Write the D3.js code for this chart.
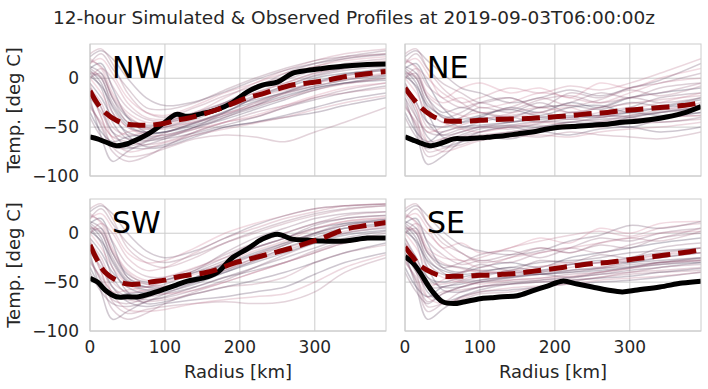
<!DOCTYPE html>
<meta charset="utf-8">
<script src="https://d3js.org/d3.v7.min.js"></script>
<style>
  body { margin: 0; background: #fff; }
  text { font-family: "DejaVu Sans", sans-serif; fill: #262626; }
</style>
<div id="my_dataviz"></div>

<script>

// radius points (km)
var memberRadius = [0, 15, 30, 50, 75, 100, 140, 180, 220, 260, 300, 340, 395];
var lineRadius = [0, 10, 20, 35, 50, 65, 80, 100, 115, 130, 150, 170, 190, 210, 230, 250, 270, 290, 310, 340, 370, 395];

var quadrants = ["NW", "NE", "SW", "SE"];
var xTicks = [0, 100, 200, 300];
var yTicks = [-100, -50, 0];

// observed profiles
var obsNW = [-60, -62, -65, -69, -67, -62, -56, -45, -37, -39, -36, -32, -25, -14, -7, -4, 5, 8, 10, 12.5, 14, 14.5];
var obsNE = [-60, -63, -66, -69, -66, -62, -62, -61, -60, -59, -57, -55, -52, -50, -49, -48, -47, -45, -44, -41, -36, -29];
var obsSW = [-46, -50, -58, -65, -65, -65, -62, -57, -53, -49, -46, -40, -25, -16, -6, -1, -6, -7, -8, -8, -5, -5];
var obsSE = [-24, -30, -40, -58, -70, -72, -70, -67, -66, -65, -64, -59, -54, -49, -52, -55, -58, -60, -58, -55, -51, -49];

// ensemble mean
var meanNW = [-13, -26, -35, -43, -47, -48, -48, -46, -43, -41, -37, -32, -26, -20, -16, -11, -7, -5, -3, 1.5, 4.5, 7];
var meanNE = [-10, -20, -29, -38, -43, -44, -44, -43, -42.5, -42, -41.5, -41, -40, -39, -37.5, -36, -35, -33, -32, -30, -28, -25];
var meanSW = [-12, -28, -40, -48, -52, -52, -50, -48, -45, -43, -41, -37, -31, -27, -23, -19, -15, -10, -5, 4, 8, 11];
var meanSE = [-14, -24, -33, -40, -44, -44, -44, -43, -43, -42, -41, -39, -37, -35, -33, -31, -30, -28, -26, -23, -20, -17];

// simulated members
var membersNW = [
  [10, 15, -10, -40, -55, -55, -45, -35, -20, -10, 0, 5, 8],
  [-20, -60, -85, -75, -65, -60, -50, -40, -30, -20, -10, -5, 0],
  [0, 5, -20, -45, -50, -45, -35, -25, -15, -5, 5, 10, 15],
  [-30, -45, -60, -65, -68, -65, -55, -45, -40, -30, -20, -15, -10],
  [15, 20, 5, -20, -35, -38, -28, -15, -5, 5, 12, 18, 22],
  [-10, -30, -55, -70, -72, -70, -60, -50, -45, -38, -30, -22, -15],
  [5, 0, -30, -50, -55, -50, -40, -25, -10, 5, 15, 22, 28],
  [-15, -40, -70, -80, -78, -72, -62, -58, -60, -65, -55, -45, -30],
  [20, 10, -15, -35, -45, -45, -40, -30, -20, -12, -5, 0, 5],
  [-5, -20, -40, -55, -60, -58, -50, -42, -32, -22, -12, -5, 2],
  [10, 0, -25, -45, -52, -50, -42, -30, -18, -8, 2, 8, 12],
  [-25, -50, -75, -85, -80, -70, -55, -45, -35, -28, -20, -12, -5],
  [0, 10, 0, -25, -40, -42, -35, -20, -5, 8, 18, 25, 30],
  [-35, -55, -65, -60, -58, -55, -48, -38, -28, -18, -10, -5, -2],
  [5, -10, -45, -62, -64, -62, -56, -48, -40, -30, -22, -15, -8],
  [15, 25, 10, -10, -30, -32, -25, -12, 0, 10, 18, 22, 25],
  [-10, -25, -50, -58, -55, -50, -45, -38, -25, -15, -5, 2, 10],
  [0, -15, -35, -50, -58, -58, -52, -45, -38, -28, -18, -10, -5],
  [12, 5, -20, -40, -48, -46, -38, -30, -22, -15, -8, -2, 3],
  [-20, -35, -55, -62, -62, -60, -52, -40, -28, -15, -5, 3, 8],
  [25, 30, 15, -15, -35, -40, -30, -18, -8, 2, 12, 20, 25],
  [-5, -40, -60, -55, -52, -48, -40, -28, -15, -5, 5, 12, 18],
  [8, -5, -35, -58, -70, -68, -58, -50, -45, -40, -35, -28, -20],
  [-40, -60, -70, -72, -68, -62, -50, -35, -20, -8, 3, 10, 15],
  [18, 12, -8, -30, -42, -44, -36, -25, -12, -2, 8, 15, 20],
  [-12, -30, -62, -75, -72, -66, -58, -52, -46, -40, -32, -25, -18],
  [2, -8, -28, -48, -56, -55, -46, -34, -24, -14, -4, 4, 10],
  [22, 28, 20, 0, -20, -28, -24, -14, -2, 8, 15, 20, 24],
  [-28, -48, -68, -70, -64, -56, -46, -36, -26, -16, -8, -2, 4],
  [6, 2, -18, -38, -50, -52, -44, -36, -28, -20, -12, -6, 0]
];
var membersNE = [
  [10, 15, -5, -30, -45, -40, -30, -35, -25, -30, -20, -15, -10],
  [-20, -55, -88, -80, -65, -60, -55, -50, -45, -48, -40, -35, -30],
  [0, 5, -20, -40, -35, -25, -20, -30, -15, -20, -10, -5, 5],
  [-30, -45, -65, -62, -60, -58, -55, -52, -50, -48, -46, -45, -42],
  [15, 20, 5, -20, -10, -5, -15, -10, -20, -5, -10, 0, 10],
  [-10, -35, -60, -70, -65, -60, -62, -55, -58, -52, -50, -55, -50],
  [5, 0, -30, -45, -40, -30, -35, -25, -35, -30, -20, -25, -20],
  [-15, -40, -75, -72, -68, -62, -58, -60, -55, -58, -60, -62, -55],
  [20, 10, -15, -25, -20, -30, -25, -15, -20, -25, -15, -5, 0],
  [-5, -25, -45, -50, -45, -40, -45, -40, -38, -40, -35, -30, -28],
  [10, 0, -25, -40, -50, -45, -40, -45, -35, -38, -30, -20, -15],
  [-25, -50, -80, -75, -60, -55, -50, -48, -52, -45, -42, -40, -38],
  [0, 10, 0, -15, -25, -20, -10, -15, -8, -12, -5, 5, 20],
  [-35, -55, -65, -55, -50, -48, -45, -42, -40, -38, -35, -38, -35],
  [5, -10, -45, -58, -55, -50, -48, -50, -45, -42, -40, -35, -30],
  [15, 25, 10, -5, -15, -25, -20, -30, -25, -15, -20, -10, -5],
  [-10, -25, -50, -55, -48, -42, -38, -35, -40, -35, -30, -32, -25],
  [0, -15, -35, -45, -52, -55, -50, -45, -48, -50, -45, -40, -38],
  [12, 5, -20, -35, -30, -35, -40, -30, -28, -32, -25, -28, -20],
  [-20, -40, -55, -58, -52, -50, -45, -40, -42, -38, -40, -45, -40],
  [25, 30, 10, -10, -25, -35, -30, -20, -28, -22, -12, -18, -8],
  [-5, -30, -55, -50, -40, -35, -40, -35, -30, -40, -32, -25, -15],
  [8, -5, -35, -60, -62, -55, -50, -55, -48, -45, -50, -42, -35],
  [-40, -60, -72, -65, -58, -52, -48, -44, -45, -40, -38, -35, -32],
  [18, 12, -8, -20, -30, -25, -32, -22, -18, -25, -20, -15, -5],
  [-12, -30, -65, -75, -70, -64, -60, -58, -60, -55, -52, -50, -45],
  [2, -8, -28, -38, -42, -38, -32, -38, -30, -28, -35, -30, -22],
  [22, 28, 18, 5, -10, -15, -25, -20, -12, -18, -10, -2, 15],
  [-28, -48, -70, -62, -55, -50, -52, -46, -42, -44, -38, -33, -30],
  [6, 2, -18, -30, -38, -42, -36, -30, -35, -30, -26, -22, -18]
];
var membersSW = [
  [10, 15, -10, -45, -55, -55, -45, -30, -15, -5, 5, 10, 12],
  [-20, -60, -88, -80, -70, -65, -55, -45, -38, -30, -20, -10, -5],
  [0, 5, -20, -45, -52, -48, -38, -25, -10, 0, 10, 15, 18],
  [-30, -45, -60, -68, -70, -68, -62, -55, -52, -45, -30, -20, -12],
  [15, 20, 5, -20, -30, -28, -15, 0, 10, 18, 25, 28, 30],
  [-10, -30, -55, -70, -75, -72, -68, -65, -60, -55, -42, -30, -20],
  [5, 0, -30, -50, -55, -48, -38, -20, -5, 5, 15, 20, 22],
  [-15, -40, -70, -82, -78, -75, -72, -70, -72, -70, -60, -40, -25],
  [20, 10, -15, -38, -48, -45, -35, -25, -15, -5, 5, 12, 15],
  [-5, -20, -40, -55, -62, -60, -52, -40, -28, -15, -5, 5, 10],
  [10, 0, -25, -48, -55, -52, -40, -28, -15, -5, 8, 15, 18],
  [-25, -50, -78, -88, -82, -72, -60, -50, -40, -30, -18, -8, 0],
  [0, 10, 0, -25, -38, -35, -20, -5, 5, 15, 22, 28, 30],
  [-35, -55, -65, -62, -60, -58, -50, -40, -30, -20, -10, -2, 3],
  [5, -10, -45, -62, -65, -62, -55, -45, -35, -25, -15, -5, 2],
  [15, 25, 10, -10, -25, -30, -22, -10, 2, 12, 20, 25, 28],
  [-10, -25, -50, -60, -58, -55, -48, -35, -22, -10, 0, 8, 12],
  [0, -15, -35, -52, -60, -62, -58, -50, -40, -30, -20, -10, -5],
  [12, 5, -20, -42, -50, -48, -40, -32, -22, -12, -2, 5, 8],
  [-20, -35, -55, -65, -68, -66, -58, -48, -35, -22, -10, 0, 5],
  [25, 30, 15, -15, -30, -35, -25, -10, 0, 10, 18, 24, 28],
  [-5, -40, -60, -58, -55, -50, -42, -30, -18, -8, 4, 12, 16],
  [8, -5, -35, -60, -72, -70, -62, -55, -48, -40, -30, -20, -10],
  [-40, -60, -72, -75, -70, -62, -50, -38, -25, -12, 0, 10, 14],
  [18, 12, -8, -32, -44, -45, -36, -22, -10, 0, 10, 18, 22],
  [-12, -30, -62, -78, -80, -78, -72, -68, -65, -62, -50, -35, -22],
  [2, -8, -28, -50, -58, -56, -46, -32, -20, -10, 0, 8, 14],
  [22, 28, 20, 0, -18, -25, -18, -5, 8, 18, 25, 28, 30],
  [-28, -48, -68, -72, -66, -58, -48, -38, -28, -18, -8, 0, 6],
  [6, 2, -18, -40, -52, -54, -46, -36, -26, -16, -6, 2, 8]
];
var membersSE = [
  [10, 15, -10, -35, -40, -35, -30, -35, -25, -20, -15, -10, -5],
  [-20, -55, -88, -78, -65, -58, -52, -48, -45, -42, -38, -35, -30],
  [0, 5, -20, -35, -30, -22, -18, -25, -15, -5, -8, 0, 5],
  [-30, -45, -65, -60, -58, -55, -52, -50, -48, -45, -40, -38, -35],
  [15, 20, 5, -15, -10, -20, -15, -5, -10, 5, 0, 10, 12],
  [-10, -35, -60, -70, -65, -60, -58, -55, -52, -50, -48, -45, -40],
  [5, 0, -30, -42, -40, -32, -38, -28, -30, -22, -25, -15, -10],
  [-15, -40, -75, -72, -68, -62, -60, -55, -50, -45, -42, -40, -38],
  [20, 10, -15, -25, -28, -35, -25, -20, -15, -10, -5, 0, 2],
  [-5, -25, -45, -50, -45, -42, -40, -42, -38, -35, -30, -28, -25],
  [10, 0, -25, -40, -48, -45, -38, -40, -32, -30, -25, -20, -15],
  [-25, -50, -80, -72, -60, -55, -50, -48, -46, -42, -40, -35, -32],
  [0, 10, 0, -15, -28, -25, -15, -8, -2, 2, -3, 5, 10],
  [-35, -55, -65, -55, -52, -48, -45, -42, -40, -38, -35, -32, -30],
  [5, -10, -45, -55, -55, -50, -45, -42, -45, -40, -35, -30, -25],
  [15, 25, 10, -5, -20, -28, -22, -15, -20, -12, -15, -5, 0],
  [-10, -25, -50, -52, -48, -42, -40, -38, -35, -30, -28, -25, -20],
  [0, -15, -35, -45, -50, -52, -48, -46, -44, -40, -36, -30, -28],
  [12, 5, -20, -32, -35, -38, -35, -30, -28, -25, -20, -18, -15],
  [-20, -40, -55, -55, -50, -48, -44, -40, -38, -36, -32, -30, -28],
  [25, 30, 10, -10, -20, -30, -25, -15, -20, -10, -5, -8, 2],
  [-5, -30, -55, -48, -40, -38, -42, -35, -30, -35, -28, -22, -15],
  [8, -5, -35, -58, -60, -55, -52, -50, -48, -46, -44, -40, -36],
  [-40, -60, -72, -62, -55, -50, -46, -42, -40, -36, -34, -30, -26],
  [18, 12, -8, -22, -32, -28, -30, -20, -15, -20, -12, -5, 5],
  [-12, -30, -65, -72, -66, -60, -56, -54, -52, -48, -46, -44, -40],
  [2, -8, -28, -38, -42, -40, -35, -38, -32, -28, -30, -25, -20],
  [22, 28, 18, 2, -12, -18, -22, -18, -8, -2, 8, 5, 12],
  [-28, -48, -70, -62, -55, -50, -48, -46, -42, -40, -36, -32, -28],
  [6, 2, -18, -30, -36, -40, -38, -34, -32, -30, -26, -22, -20]
];

var panels = [
  {name: quadrants[0], obs: obsNW, mean: meanNW, members: membersNW, col: 0, row: 0},
  {name: quadrants[1], obs: obsNE, mean: meanNE, members: membersNE, col: 1, row: 0},
  {name: quadrants[2], obs: obsSW, mean: meanSW, members: membersSW, col: 0, row: 1},
  {name: quadrants[3], obs: obsSE, mean: meanSE, members: membersSE, col: 1, row: 1}
];

// dimensions
var W = 708, H = 389;
var pw = 296, ph = 132;
var lefts = [90, 405], tops = [44, 199];

var svg = d3.select("#my_dataviz")
  .append("svg")
    .attr("width", W)
    .attr("height", H);

var x = d3.scaleLinear().domain([0, 395]).range([0, pw]);
var y = d3.scaleLinear().domain([-100, 35]).range([ph, 0]);

var memberColor = d3.interpolateRgb("#2e2142", "#d27b94");

// title
svg.append("text")
  .attr("x", W / 2).attr("y", 24)
  .attr("text-anchor", "middle")
  .style("font-size", "18.5px")
  .text("12-hour Simulated & Observed Profiles at 2019-09-03T06:00:00z");

panels.forEach(function(p, pi) {
  var g = svg.append("g")
    .attr("transform", "translate(" + lefts[p.col] + "," + tops[p.row] + ")");

  g.append("clipPath").attr("id", "clip" + pi)
    .append("rect").attr("width", pw).attr("height", ph);

  // grid
  g.selectAll(".vgrid").data(xTicks).enter().append("line")
    .attr("x1", function(d) { return x(d); }).attr("x2", function(d) { return x(d); })
    .attr("y1", 0).attr("y2", ph)
    .attr("stroke", "#cccccc").attr("stroke-width", 1);
  g.selectAll(".hgrid").data(yTicks).enter().append("line")
    .attr("x1", 0).attr("x2", pw)
    .attr("y1", function(d) { return y(d); }).attr("y2", function(d) { return y(d); })
    .attr("stroke", "#cccccc").attr("stroke-width", 1);

  var plot = g.append("g").attr("clip-path", "url(#clip" + pi + ")");

  var memberLine = d3.line()
    .x(function(d, i) { return x(memberRadius[i]); })
    .y(function(d) { return y(d); })
    .curve(d3.curveCatmullRom);

  var profLine = d3.line()
    .x(function(d, i) { return x(lineRadius[i]); })
    .y(function(d) { return y(d); })
    .curve(d3.curveCatmullRom);

  // members
  plot.selectAll(".member").data(p.members).enter().append("path")
    .attr("d", memberLine)
    .attr("fill", "none")
    .attr("stroke", function(d, i) { return memberColor(((i * 7) % p.members.length) / (p.members.length - 1)); })
    .attr("stroke-opacity", 0.27)
    .attr("stroke-width", 1.5);

  // observed
  plot.append("path").datum(p.obs)
    .attr("d", profLine)
    .attr("fill", "none")
    .attr("stroke", "#000")
    .attr("stroke-width", 5)
    .attr("stroke-linejoin", "round");

  // mean
  plot.append("path").datum(p.mean)
    .attr("d", profLine)
    .attr("fill", "none")
    .attr("stroke", "#8b0000")
    .attr("stroke-width", 5)
    .attr("stroke-dasharray", "18,8");

  // frame
  g.append("rect")
    .attr("width", pw).attr("height", ph)
    .attr("fill", "none").attr("stroke", "#cccccc").attr("stroke-width", 1);

  // quadrant label
  g.append("text")
    .attr("x", 22).attr("y", 34)
    .style("font-size", "30px")
    .style("fill", "#000")
    .text(p.name);

  // axes labels
  if (p.col == 0) {
    g.selectAll(".ytick").data(yTicks).enter().append("text")
      .attr("x", -11)
      .attr("y", function(d) { return y(d); })
      .attr("dy", "0.35em")
      .attr("text-anchor", "end")
      .style("font-size", "17px")
      .text(function(d) { return d < 0 ? "\u2212" + Math.abs(d) : d; });
    g.append("text")
      .attr("transform", "translate(-70," + (ph / 2) + ")rotate(-90)")
      .attr("text-anchor", "middle")
      .style("font-size", "18px")
      .text("Temp. [deg C]");
  }
  if (p.row == 1) {
    g.selectAll(".xtick").data(xTicks).enter().append("text")
      .attr("x", function(d) { return x(d); })
      .attr("y", ph + 22)
      .attr("text-anchor", "middle")
      .style("font-size", "17px")
      .text(function(d) { return d; });
    g.append("text")
      .attr("x", pw / 2).attr("y", ph + 47)
      .attr("text-anchor", "middle")
      .style("font-size", "18px")
      .text("Radius [km]");
  }
});

</script>
